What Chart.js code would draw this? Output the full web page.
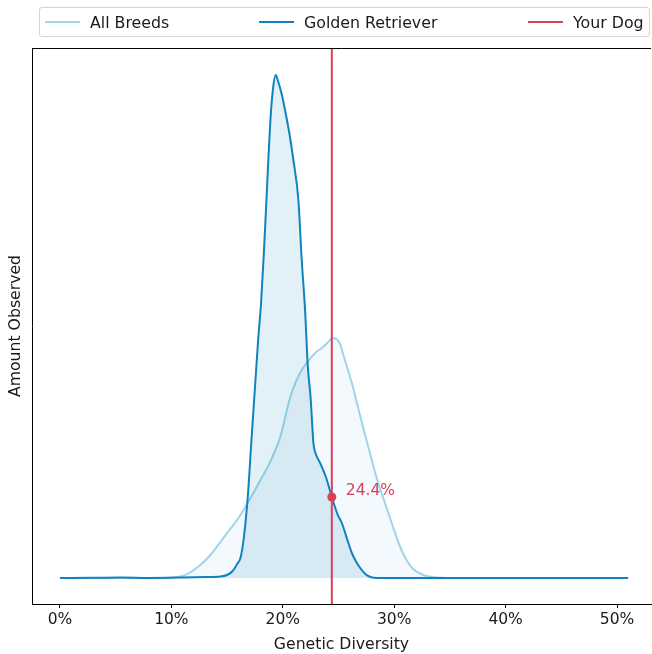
<!DOCTYPE html>
<html>
<head>
<meta charset="utf-8">
<script src="https://cdn.jsdelivr.net/npm/chart.js@4"></script>
<style>
    body { margin: 0; background: #fff; font-family: "DejaVu Sans", sans-serif; }
    #wrap { position: relative; width: 652px; height: 654px; }
    #legend { position: absolute; left: 39px; top: 7px; width: 609px; height: 28px; border: 1px solid #d4d4d4; border-radius: 3px; background: #fff; }
    .item { position: absolute; top: 0; height: 28px; display: flex; align-items: center; font-size: 15.8px; color: #1a1a1a; white-space: nowrap; }
    .swatch { display: inline-block; width: 35px; height: 0; border-top: 2px solid; margin-right: 10px; }
</style>
</head>
<body>
<div id="wrap">
    <canvas id="chart" width="652" height="654"></canvas>
    <div id="legend">
        <div class="item" style="left:5px"><span class="swatch" style="border-color:#9fd4ea"></span>All Breeds</div>
        <div class="item" style="left:219px"><span class="swatch" style="border-color:#0f83bf"></span>Golden Retriever</div>
        <div class="item" style="left:488px"><span class="swatch" style="border-color:#d8415a"></span>Your Dog</div>
    </div>
</div>
<script>
// x values in % genetic diversity, y values are relative amounts
const xTickValues = [0, 10, 20, 30, 40, 50];

const allBreedsX = [0, 9, 10, 10.8, 11.6, 12.6, 13.5, 14.4, 15.0, 15.7, 16.2, 16.9, 17.5, 18.1, 18.7, 19.3,
    19.8, 20.2, 20.6, 20.95, 21.5, 22.0, 22.5, 23.0, 23.5, 24.0, 24.5, 24.8, 25.1, 25.6, 26.2, 26.7,
    27.2, 27.8, 28.4, 29.2, 29.9, 30.5, 31.1, 31.7, 32.6, 33.8, 36, 51];
const allBreedsY = [0, 0, 0.005, 0.015, 0.05, 0.13, 0.23, 0.36, 0.45, 0.55, 0.63, 0.76, 0.88, 1.00, 1.12, 1.27,
    1.42, 1.60, 1.78, 1.90, 2.04, 2.13, 2.20, 2.26, 2.30, 2.35, 2.40, 2.39, 2.35, 2.17, 1.95, 1.73,
    1.51, 1.26, 1.01, 0.74, 0.51, 0.32, 0.18, 0.09, 0.03, 0.006, 0, 0];

const goldenX = [0, 3, 5.5, 8, 11, 13, 14.4, 15.0, 15.5, 15.9, 16.2, 16.5, 16.85, 17.2, 17.5, 17.8,
    18.05, 18.3, 18.5, 18.7, 18.95, 19.15, 19.36, 19.6, 19.9, 20.2, 20.6, 20.95, 21.4, 21.7, 22.0, 22.25,
    22.5, 22.75, 23.0, 23.35, 23.9, 24.4, 24.9, 25.3, 25.8, 26.2, 26.6, 26.95, 27.4, 27.85, 28.5, 32, 40, 51];
const goldenY = [0, 0.002, 0.005, 0.001, 0.005, 0.01, 0.015, 0.03, 0.07, 0.14, 0.20, 0.40, 0.80, 1.40, 1.90, 2.40,
    2.75, 3.25, 3.70, 4.18, 4.68, 4.92, 5.03, 4.96, 4.84, 4.68, 4.44, 4.18, 3.78, 3.18, 2.68, 2.11,
    1.80, 1.35, 1.23, 1.15, 1.00, 0.81, 0.64, 0.55, 0.38, 0.25, 0.16, 0.10, 0.04, 0.01, 0, 0, 0, 0];

const yourDogValue = 24.4;
const yourDogAmount = 0.81;

const xMin = -2.51, xMax = 53.05;
const yMin = -0.26, yMax = 5.30;

const RED = '#d8415a';
const FONT = '"DejaVu Sans", sans-serif';
const TEXT = '#1a1a1a';

function toPoints(xs, ys) {
    return xs.map((x, i) => ({ x, y: ys[i] }));
}

// draws the top spine and the value label next to the dot
const extras = {
    id: 'extras',
    afterDatasetsDraw(chart) {
        const { ctx, chartArea, scales } = chart;
        ctx.save();
        ctx.strokeStyle = '#000';
        ctx.lineWidth = 1;
        ctx.beginPath();
        ctx.moveTo(chartArea.left, chartArea.top + 0.5);
        ctx.lineTo(chartArea.right, chartArea.top + 0.5);
        ctx.stroke();

        const px = scales.x.getPixelForValue(yourDogValue);
        const py = scales.y.getPixelForValue(yourDogAmount);
        ctx.fillStyle = RED;
        ctx.font = '15.5px ' + FONT;
        ctx.textAlign = 'left';
        ctx.textBaseline = 'middle';
        ctx.fillText(yourDogValue.toFixed(1) + '%', px + 14, py - 6);
        ctx.restore();
    }
};

new Chart(document.getElementById('chart').getContext('2d'), {
    type: 'line',
    data: {
        datasets: [
            {
                label: 'Your Dog',
                data: [{ x: yourDogValue, y: yMin }, { x: yourDogValue, y: yMax }],
                borderColor: RED,
                borderWidth: 2,
                pointRadius: 0,
                order: 0
            },
            {
                label: 'Your Dog point',
                data: [{ x: yourDogValue, y: yourDogAmount }],
                showLine: false,
                pointRadius: 4.5,
                pointBackgroundColor: RED,
                pointBorderWidth: 0,
                order: 0
            },
            {
                label: 'Golden Retriever',
                data: toPoints(goldenX, goldenY),
                borderColor: '#0f83bf',
                backgroundColor: 'rgba(15,131,191,0.12)',
                borderWidth: 2,
                fill: 'origin',
                pointRadius: 0,
                cubicInterpolationMode: 'monotone',
                order: 1
            },
            {
                label: 'All Breeds',
                data: toPoints(allBreedsX, allBreedsY),
                borderColor: '#9fd4ea',
                backgroundColor: 'rgba(159,212,234,0.13)',
                borderWidth: 2,
                fill: 'origin',
                pointRadius: 0,
                cubicInterpolationMode: 'monotone',
                order: 2
            }
        ]
    },
    options: {
        responsive: false,
        animation: false,
        devicePixelRatio: 1,
        layout: { autoPadding: false, padding: { top: 48, right: 1, left: 0, bottom: 0 } },
        plugins: { legend: { display: false }, tooltip: { enabled: false } },
        scales: {
            x: {
                type: 'linear',
                min: xMin,
                max: xMax,
                afterBuildTicks: scale => { scale.ticks = xTickValues.map(v => ({ value: v })); },
                afterFit: scale => { scale.height = 50; },
                grid: { display: true, drawOnChartArea: false, drawTicks: true, tickLength: 4, color: '#000' },
                border: { display: true, color: '#000', width: 1 },
                ticks: { callback: v => v + '%', color: TEXT, font: { family: FONT, size: 15.5 }, padding: 3, maxRotation: 0 },
                title: { display: true, text: 'Genetic Diversity', color: TEXT, font: { family: FONT, size: 15.7 }, padding: { top: 0, bottom: 0 } }
            },
            y: {
                type: 'linear',
                min: yMin,
                max: yMax,
                afterFit: scale => { scale.width = 32; },
                grid: { display: false },
                border: { display: true, color: '#000', width: 1 },
                ticks: { display: false },
                title: { display: true, text: 'Amount Observed', color: TEXT, font: { family: FONT, size: 15.7 }, padding: { top: 6.5, bottom: 0 } }
            }
        }
    },
    plugins: [extras]
});
</script>
</body>
</html>
